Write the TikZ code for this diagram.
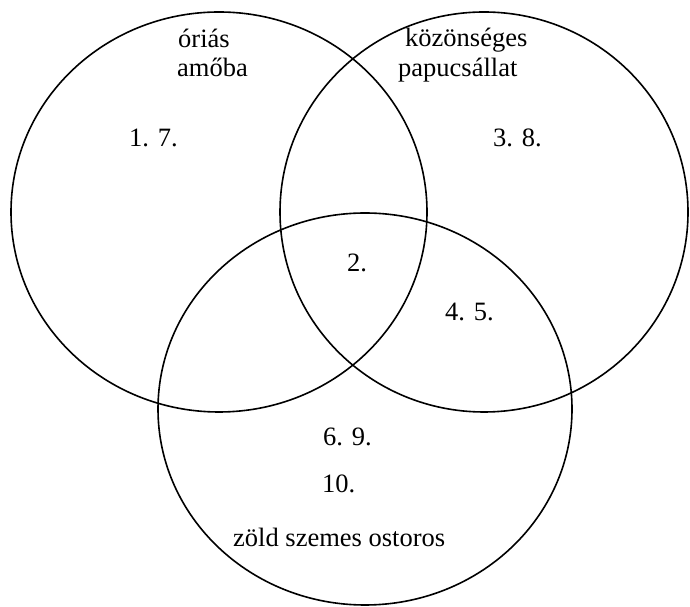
\documentclass[tikz,border=0pt]{standalone}
\usepackage{fontspec}
\setmainfont{Liberation Serif}
\usetikzlibrary{shapes.geometric}

\begin{document}
\begin{tikzpicture}[x=1pt, y=1pt,
    set/.style={draw, ellipse, line width=1.6pt, inner sep=0pt},
    lbl/.style={anchor=base west, inner sep=0pt, font=\fontsize{26.5}{29}\selectfont}]
    \useasboundingbox (0,0) rectangle (690,607);

    % Sets
    \node (ameba) [set, minimum width=416pt, minimum height=400pt] at (219,395) {};
    \node (papucs) [set, minimum width=408pt, minimum height=400pt] at (484,395) {};
    \node (ostoros) [set, minimum width=414pt, minimum height=392pt] at (365,198) {};

    % Set names
    \node (amebaA) [lbl] at (178,559) {óriás};
    \node (amebaB) [lbl] at (177,530) {amőba};
    \node (papucsA) [lbl] at (405,560) {közönséges};
    \node (papucsB) [lbl] at (398,530) {papucsállat};
    \node (ostorosA) [lbl] at (233,60) {zöld szemes ostoros};

    % Numbers in the regions
    \node (csak1) [lbl] at (129,460) {1. 7.};
    \node (csak2) [lbl] at (493,460) {3. 8.};
    \node (mind) [lbl] at (347,335) {2.};
    \node (ketto) [lbl] at (445,286) {4. 5.};
    \node (csak3) [lbl] at (323,161) {6. 9.};
    \node (tiz) [lbl] at (322,114) {10.};

\end{tikzpicture}
\end{document}
